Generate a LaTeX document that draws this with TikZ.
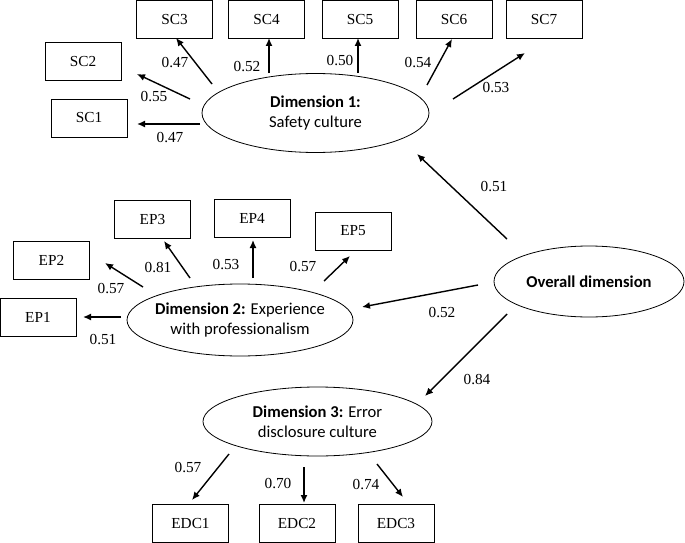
\documentclass[tikz,border=0pt]{standalone}
\usepackage{fontspec}
\setmainfont{Liberation Serif}
\newfontfamily\calib{Carlito}
\usetikzlibrary{shapes.geometric,arrows.meta}
\begin{document}
\begin{tikzpicture}[x=1pt,y=-1pt,
  obs/.style={draw,line width=0.8pt,minimum width=76pt,minimum height=38pt,inner sep=0pt,font=\fontsize{15.3}{18}\selectfont},
  lat/.style={draw,ellipse,line width=0.8pt,inner sep=0pt},
  lattext/.style={inner sep=0pt,align=center,font=\calib\fontsize{16.6}{20}\selectfont},
  lbl/.style={inner sep=0pt,font=\fontsize{15.3}{18}\selectfont},
  arr/.style={line width=1.4pt,-{Latex[length=8pt,width=7pt]}}]
\useasboundingbox (0,0) rectangle (685,543);
% observed boxes
\node[obs] (SC1) at (89,118) {SC1};
\node[obs] (SC2) at (83,61.5) {SC2};
\node[obs] (SC3) at (174.5,19.5) {SC3};
\node[obs] (SC4) at (266.5,19.5) {SC4};
\node[obs] (SC5) at (360,19.5) {SC5};
\node[obs] (SC6) at (454,19.5) {SC6};
\node[obs] (SC7) at (544,19.5) {SC7};
\node[obs] (EP1) at (38,317) {EP1};
\node[obs] (EP2) at (51.5,260) {EP2};
\node[obs] (EP3) at (152.5,219.5) {EP3};
\node[obs] (EP4) at (252,218) {EP4};
\node[obs] (EP5) at (353,231) {EP5};
\node[obs] (EDC1) at (190.5,523.5) {EDC1};
\node[obs] (EDC2) at (297,523.5) {EDC2};
\node[obs] (EDC3) at (396,523.5) {EDC3};
% latent ellipses
\node[lat,minimum width=227pt,minimum height=79pt,label={[lattext]center:{\textbf{Dimension 1:}\\Safety culture}}] (D1) at (315.5,113) {};
\node[lat,minimum width=226pt,minimum height=72pt,label={[lattext]center:{\textbf{Dimension 2:} Experience\\with professionalism}}] (D2) at (240,320) {};
\node[lat,minimum width=229pt,minimum height=69pt,label={[lattext]center:{\textbf{Dimension 3:} Error\\disclosure culture}}] (D3) at (317.5,421.5) {};
\node[lat,minimum width=190pt,minimum height=71pt,label={[lattext]center:{\textbf{Overall dimension}}}] (OV) at (589,281.5) {};
% arrow end points
\coordinate (a1s) at (200,124); \coordinate (a1e) at (137,124);
\coordinate (a2s) at (190,99);  \coordinate (a2e) at (137,74);
\coordinate (a3s) at (212,84);  \coordinate (a3e) at (176,38);
\coordinate (a4s) at (269,73);  \coordinate (a4e) at (269,38);
\coordinate (a5s) at (358,73);  \coordinate (a5e) at (358,38);
\coordinate (a6s) at (427,85);  \coordinate (a6e) at (452,39);
\coordinate (a7s) at (453,99);  \coordinate (a7e) at (525,53);
\coordinate (b1s) at (121,317); \coordinate (b1e) at (83,317);
\coordinate (b2s) at (143,287); \coordinate (b2e) at (105,263);
\coordinate (b3s) at (190,278); \coordinate (b3e) at (164,241);
\coordinate (b4s) at (253,278); \coordinate (b4e) at (253,240);
\coordinate (b5s) at (324,281); \coordinate (b5e) at (350,256);
\coordinate (c1s) at (229,454); \coordinate (c1e) at (192,500);
\coordinate (c2s) at (304,467); \coordinate (c2e) at (304,503);
\coordinate (c3s) at (377,464); \coordinate (c3e) at (403,497);
\coordinate (o1s) at (507,239); \coordinate (o1e) at (417,154);
\coordinate (o2s) at (478,285); \coordinate (o2e) at (362,307);
\coordinate (o3s) at (507,314); \coordinate (o3e) at (425,396);
% arrows
\foreach \a in {a1,a2,a3,a4,a5,a6,a7,b1,b2,b3,b4,b5,c1,c2,c3,o1,o2,o3}
  \draw[arr] (\a s) -- (\a e);
% labels
\node[lbl] (la1) at (170,138) {0.47};
\node[lbl] (la2) at (154,97) {0.55};
\node[lbl] (la3) at (175,63) {0.47};
\node[lbl] (la4) at (247,67) {0.52};
\node[lbl] (la5) at (340,61) {0.50};
\node[lbl] (la6) at (418,63) {0.54};
\node[lbl] (la7) at (496,88) {0.53};
\node[lbl] (lb1) at (103,340) {0.51};
\node[lbl] (lb2) at (111,289) {0.57};
\node[lbl] (lb3) at (158,268) {0.81};
\node[lbl] (lb4) at (226,265) {0.53};
\node[lbl] (lb5) at (303,267) {0.57};
\node[lbl] (lc1) at (188,468) {0.57};
\node[lbl] (lc2) at (278,484) {0.70};
\node[lbl] (lc3) at (366,485) {0.74};
\node[lbl] (lo1) at (494,187) {0.51};
\node[lbl] (lo2) at (442,313) {0.52};
\node[lbl] (lo3) at (477,380) {0.84};
\end{tikzpicture}
\end{document}
